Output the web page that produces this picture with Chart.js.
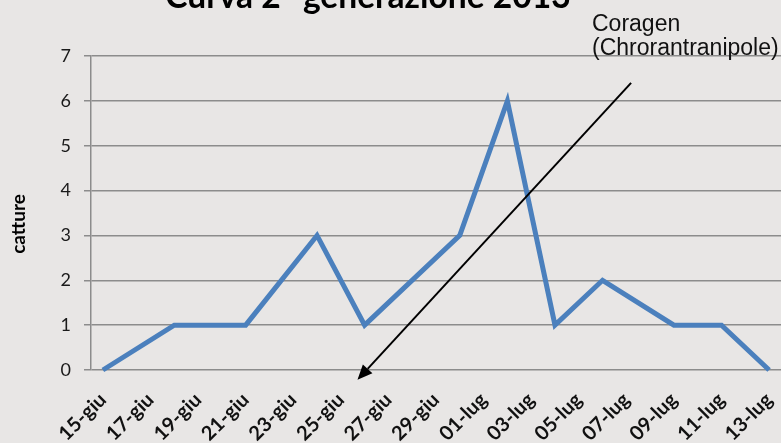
<!DOCTYPE html>
<html lang="it">
<head>
<meta charset="utf-8">
<title>Curva 2° generazione 2013</title>
<script src="https://cdn.jsdelivr.net/npm/chart.js@4.4.1/dist/chart.umd.min.js"></script>
<style>
  html, body { margin: 0; padding: 0; background: #e8e6e5; overflow: hidden; }
  #wrap { width: 781px; height: 443px; position: relative; }
</style>
</head>
<body>
<div id="wrap"><canvas id="chart" width="781" height="443"></canvas></div>
<script>
// Giorni del periodo di monitoraggio (asse delle date, un giorno per categoria)
const giorni = [
  '15-giu','16-giu','17-giu','18-giu','19-giu','20-giu','21-giu','22-giu',
  '23-giu','24-giu','25-giu','26-giu','27-giu','28-giu','29-giu','30-giu',
  '01-lug','02-lug','03-lug','04-lug','05-lug','06-lug','07-lug','08-lug',
  '09-lug','10-lug','11-lug','12-lug','13-lug'
];
// Date dei rilievi e catture registrate
const dateRilievo = ['15-giu','18-giu','21-giu','24-giu','26-giu','30-giu','02-lug','04-lug','06-lug','09-lug','11-lug','13-lug'];
const catture = [0, 1, 1, 3, 1, 3, 6, 1, 2, 1, 1, 0];
// Tacche dell'asse verticale
const yTicks = [0, 1, 2, 3, 4, 5, 6, 7];

const titolo = 'Curva 2° generazione 2013';
const titoloAsseY = 'catture';
const notaTrattamento = ['Coragen', '(Chrorantranipole)'];
// Freccia del trattamento, in coordinate dei dati (indice giorno, catture)
const frecciaDa = { x: 22.2, y: 6.4 };
const frecciaA = { x: 10.7, y: -0.22 };

const BG = '#e8e6e5';
const GRID = '#8c8c8c';
const LINE = '#4b80bd';

const sfondo = {
  id: 'sfondo',
  beforeDraw(chart) {
    const c = chart.ctx;
    c.save();
    c.fillStyle = BG;
    c.fillRect(0, 0, chart.width, chart.height);
    c.restore();
  }
};

const annotazioni = {
  id: 'annotazioni',
  afterDatasetsDraw(chart) {
    const c = chart.ctx;
    const xs = chart.scales.x, ys = chart.scales.y;
    c.save();

    // Titolo
    c.fillStyle = '#000';
    c.textBaseline = 'alphabetic';
    c.textAlign = 'center';
    c.font = 'bold 30px Lato, "Open Sans", sans-serif';
    const w = c.measureText(titolo).width;
    const size = 30 * 405 / w;
    c.font = 'bold ' + size.toFixed(1) + 'px Lato, "Open Sans", sans-serif';
    c.fillText(titolo, 368, 8);

    // Titolo dell'asse verticale
    c.save();
    c.translate(19, 224);
    c.rotate(-Math.PI / 2);
    c.textBaseline = 'middle';
    c.font = 'bold 19px Lato, "Open Sans", sans-serif';
    c.fillText(titoloAsseY, 0, 0);
    c.restore();

    // Nota del trattamento
    c.textAlign = 'left';
    c.font = '23px "Liberation Sans", Arial, sans-serif';
    c.fillStyle = '#111';
    c.fillText(notaTrattamento[0], 592, 31);
    c.fillText(notaTrattamento[1], 592, 55);

    // Freccia
    const x1 = xs.getPixelForValue(frecciaDa.x), y1 = ys.getPixelForValue(frecciaDa.y);
    const x2 = xs.getPixelForValue(frecciaA.x), y2 = ys.getPixelForValue(frecciaA.y);
    const ang = Math.atan2(y2 - y1, x2 - x1);
    const head = 15, half = 6.5;
    const bx = x2 - head * Math.cos(ang), by = y2 - head * Math.sin(ang);
    c.strokeStyle = '#000';
    c.lineWidth = 2;
    c.beginPath();
    c.moveTo(x1, y1);
    c.lineTo(bx, by);
    c.stroke();
    c.fillStyle = '#000';
    c.beginPath();
    c.moveTo(x2, y2);
    c.lineTo(bx + half * Math.sin(ang), by - half * Math.cos(ang));
    c.lineTo(bx - half * Math.sin(ang), by + half * Math.cos(ang));
    c.closePath();
    c.fill();
    c.restore();
  }
};

new Chart(document.getElementById('chart'), {
  type: 'line',
  data: {
    labels: giorni,
    datasets: [{
      label: 'catture',
      data: dateRilievo.map((d, i) => ({ x: d, y: catture[i] })),
      borderColor: LINE,
      backgroundColor: LINE,
      borderWidth: 5,
      pointRadius: 0,
      tension: 0,
      borderJoinStyle: 'miter',
      clip: 6
    }]
  },
  options: {
    responsive: false,
    animation: false,
    events: [],
    layout: { padding: { top: 56, right: 0, left: 0, bottom: 0 } },
    plugins: {
      legend: { display: false },
      tooltip: { enabled: false },
      title: { display: false }
    },
    scales: {
      x: {
        type: 'category',
        offset: true,
        grid: { display: false, drawTicks: false },
        border: { display: false },
        ticks: {
          autoSkip: false,
          minRotation: 45,
          maxRotation: 45,
          padding: 18,
          color: '#111',
          font: (ctx) => ctx.index === giorni.length - 1
            ? { family: '"Liberation Sans", Arial, sans-serif', size: 18, weight: 'normal' }
            : { family: 'Lato, "Open Sans", sans-serif', size: 20, weight: 'bold' },
          callback: function (v, i) {
            return i % 2 === 0 ? this.getLabelForValue(v) : null;
          }
        },
        afterFit: (s) => { s.height = 73; s.paddingLeft = 0; s.paddingRight = 0; }
      },
      y: {
        min: 0,
        max: 7,
        afterBuildTicks: (s) => { s.ticks = yTicks.map(v => ({ value: v })); },
        grid: { color: GRID, lineWidth: 1.5, tickLength: 7, drawTicks: true },
        border: { display: true, color: GRID, width: 1.5 },
        ticks: {
          padding: 13,
          color: '#1a1a1a',
          font: { family: 'Lato, "Open Sans", sans-serif', size: 18 }
        },
        title: { display: false },
        afterFit: (s) => { s.width = 91; s.paddingTop = 0; s.paddingBottom = 0; }
      }
    }
  },
  plugins: [sfondo, annotazioni]
});
</script>
</body>
</html>
